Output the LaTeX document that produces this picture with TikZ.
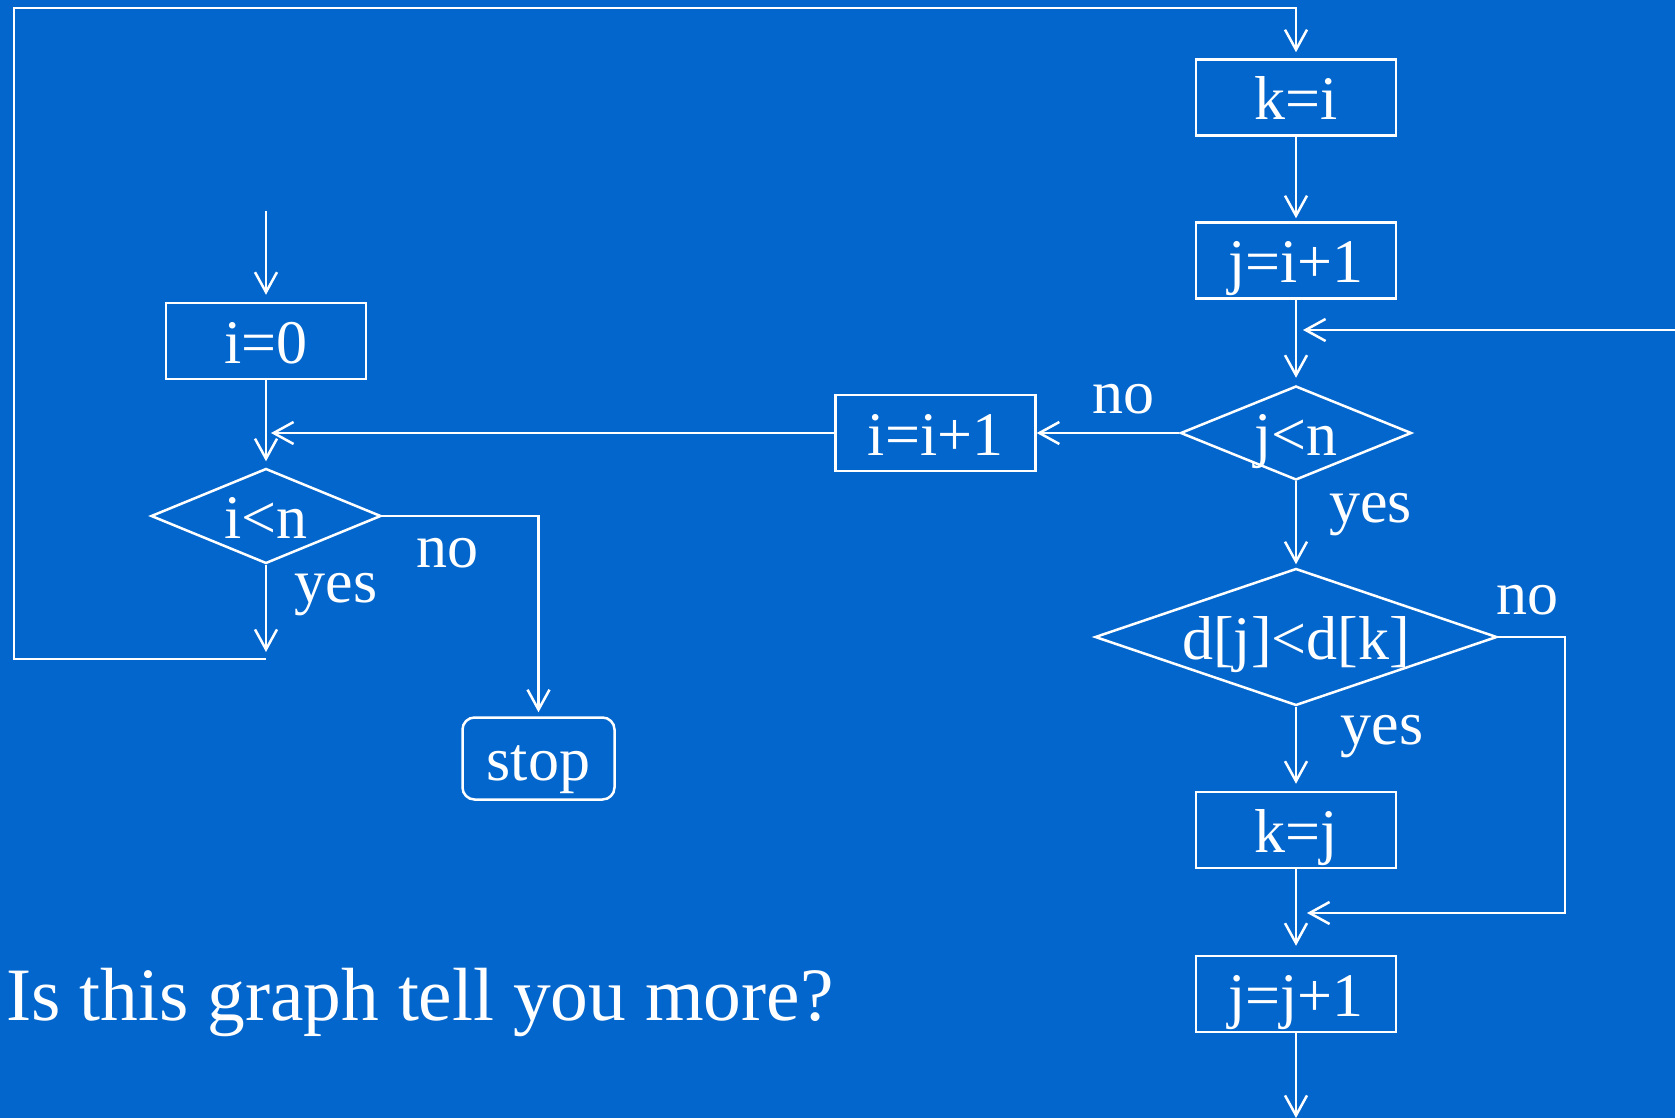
\documentclass[tikz,border=0pt]{standalone}
\usepackage{fontspec}
\setmainfont{Liberation Serif}
\usetikzlibrary{arrows.meta,shapes.geometric}
\definecolor{bgblue}{RGB}{3,102,204}
\tikzset{
  every node/.style={text=white,font=\fontsize{31}{37}\selectfont},
  conn/.style={draw=white,line width=1.25pt},
  arr/.style={conn,-{Straight Barb[length=10pt,width=11pt,line width=1.25pt]}},
  procbox/.style={draw=white,line width=1.25pt,rectangle,inner sep=0pt,
    minimum width=100pt,minimum height=38pt,text height=22.3pt,text depth=0pt},
  stopbox/.style={procbox,rounded corners=6pt,minimum width=76pt,minimum height=41pt},
  decision/.style={draw=white,line width=1.25pt,diamond,inner sep=0pt,
    text height=22.3pt,text depth=0pt},
  lbl/.style={anchor=base},
}
\begin{document}
\begin{tikzpicture}[x=0.5pt,y=-0.5pt]
\fill[bgblue] (0,0) rectangle (1675,1118);
\useasboundingbox (0,0) rectangle (1675,1118);

% nodes
\node[procbox] (kI) at (1296,97.5) {k=i};
\node[procbox] (jI) at (1296,260.5) {j=i+1};
\node[decision,aspect=2.46,minimum width=115.5pt,minimum height=47pt] (jlt) at (1296,433) {j<n};
\node[procbox] (iInc) at (935.5,433) {i=i+1};
\node[procbox] (i0) at (266,341) {i=0};
\node[decision,aspect=2.42,minimum width=115pt,minimum height=47.5pt] (ilt) at (266,516) {i<n};
\node[stopbox] (stop) at (538.5,758.5) {stop};
\node[decision,aspect=2.93,minimum width=201pt,minimum height=68.5pt] (dlt) at (1296,637) {d[j]<d[k]};
\node[procbox] (kJ) at (1296,830) {k=j};
\node[procbox] (jJ) at (1296,994) {j=j+1};

% labels
\node[lbl] (noA) at (1123,413) {no};
\node[lbl] (yesA) at (1370.5,522) {yes};
\node[lbl] (noB) at (447,567) {no};
\node[lbl] (yesB) at (336,602) {yes};
\node[lbl] (yesC) at (1382,744) {yes};
\node[lbl] (noC) at (1527,614) {no};
\node[anchor=base west,inner sep=0pt,font=\fontsize{37.7}{45}\selectfont] (q) at (6,1020) {Is this graph tell you more?};

% coordinates
\coordinate (start) at (266,211);
\coordinate (yesEnd) at (266,652);
\coordinate (loopBR) at (266,659);
\coordinate (loopBL) at (14,659);
\coordinate (loopTL) at (14,8);
\coordinate (rin) at (1675,330);
\coordinate (rinTip) at (1303,330);
\coordinate (incTip) at (271,433);
\coordinate (dR) at (1565,637);
\coordinate (dRB) at (1565,913);
\coordinate (dTip) at (1307,913);
\coordinate (bottomEnd) at (1296,1118);

% connectors
\draw[arr] (loopBR) -- (loopBL) -- (loopTL) -| ([yshift=3pt]kI.north);
\draw[arr] (kI.south) -- ([yshift=1.5pt]jI.north);
\draw[arr] (jI.south) -- ([yshift=3.5pt]jlt.north);
\draw[arr] (rin) -- (rinTip);
\draw[arr] (jlt.west) -- (iInc.east);
\draw[arr] (iInc.west) -- (incTip);
\draw[arr] (start) -- ([yshift=3.5pt]i0.north);
\draw[arr] (i0.south) -- ([yshift=3pt]ilt.north);
\draw[arr] (ilt.east) -| ([yshift=2pt]stop.north);
\draw[arr] (ilt.south) -- (yesEnd);
\draw[arr] (jlt.south) -- ([yshift=1.5pt]dlt.north);
\draw[arr] (dlt.south) -- ([yshift=3.5pt]kJ.north);
\draw[arr] (kJ.south) -- ([yshift=4.5pt]jJ.north);
\draw[arr] (dlt.east) -- (dR) -- (dRB) -- (dTip);
\draw[arr] (jJ.south) -- (bottomEnd);
\end{tikzpicture}
\end{document}
